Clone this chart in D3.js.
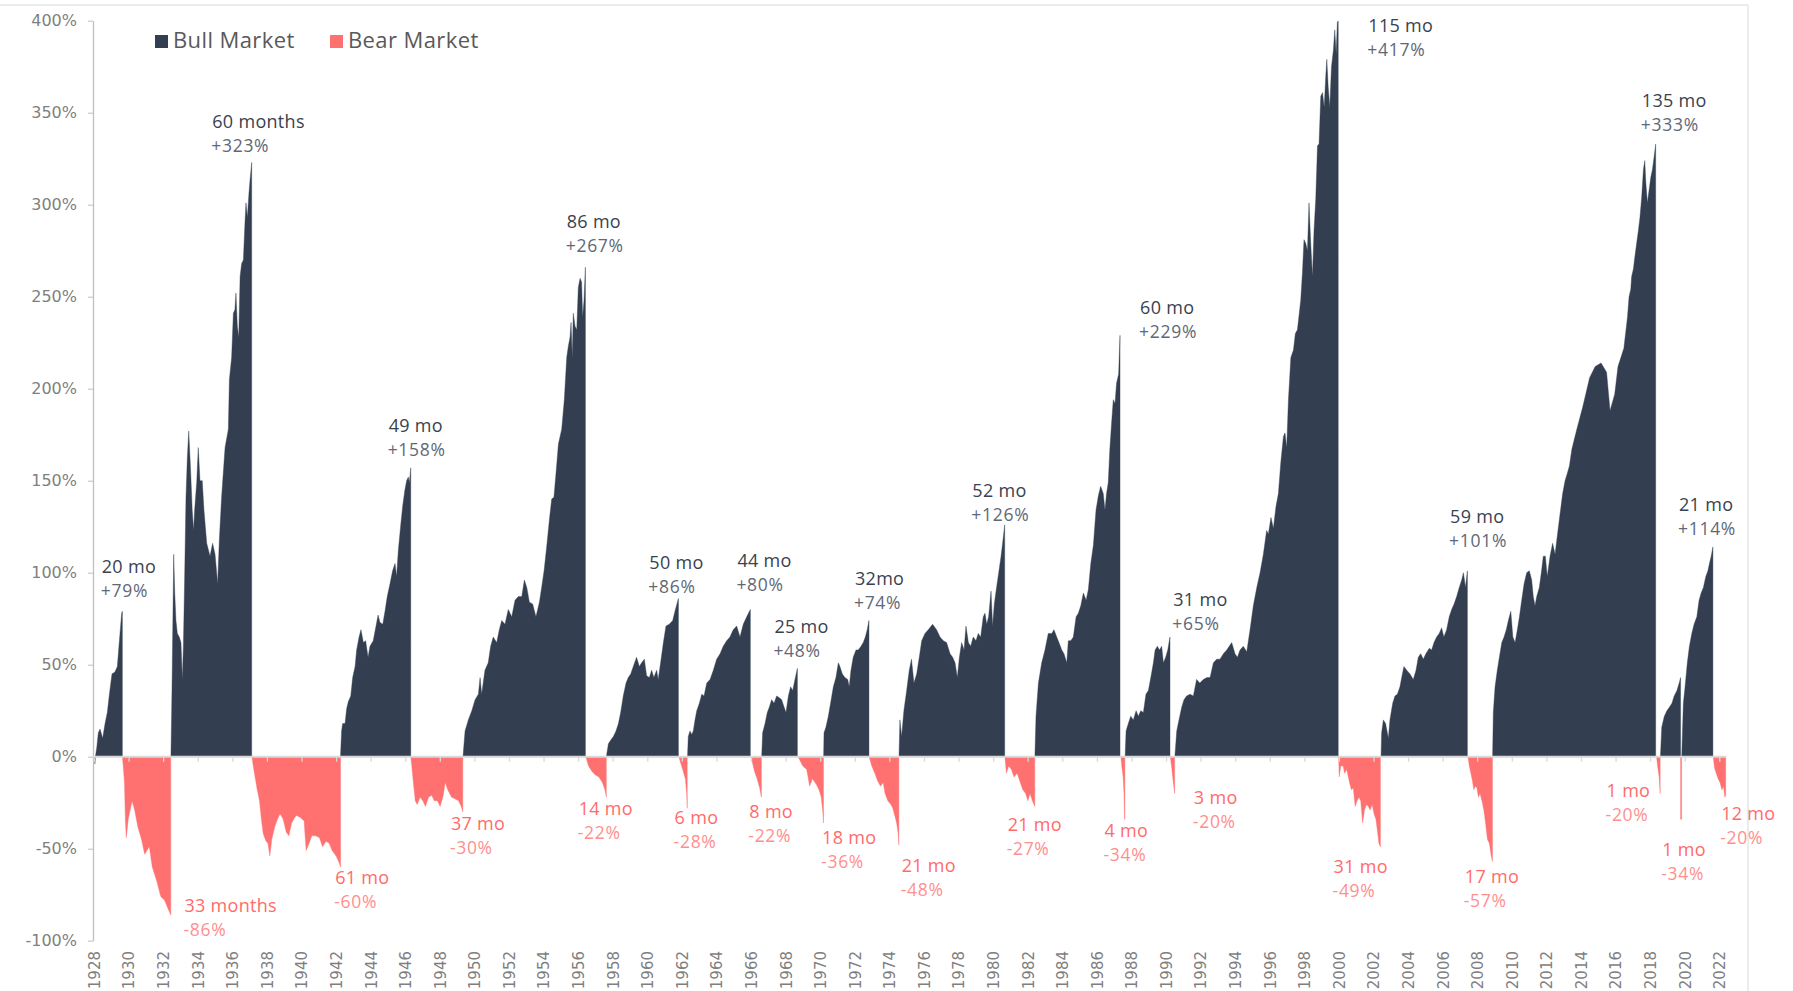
<!DOCTYPE html>
<html>
<head>
<meta charset="utf-8">
<script src="https://cdn.jsdelivr.net/npm/d3@7"></script>
<style>
    body { margin: 0; background: #ffffff; }
    svg { display: block; font-family: 'Open Sans', Lato, sans-serif; }
    .tickLabel { fill: #7f7f7f; font-size: 16px; font-family: 'DejaVu Sans', sans-serif; }
    .yearLabel { fill: #7f7f7f; font-size: 15px; font-family: 'DejaVu Sans', sans-serif; }
    .legendText { fill: #595959; font-size: 22px; letter-spacing: 0.4px; }
    .bullTop { fill: #39424f; font-size: 18px; letter-spacing: 0.3px; }
    .bullSub { fill: #5f6878; font-size: 17.5px; letter-spacing: 0.7px; }
    .bearTop { fill: #ff6b6b; font-size: 18px; letter-spacing: 0.3px; }
    .bearSub { fill: #ff8f8f; font-size: 17.5px; letter-spacing: 0.7px; }
</style>
</head>
<body>
<svg id="chart" width="1793" height="991"></svg>
<script>
// each market: [decimal year, % change since the start of that market]
const bull1928 = [[1928.05,-4],[1928.08,0],[1928.16,5],[1928.25,13],[1928.35,15],[1928.5,10],[1928.64,18],[1928.77,24],[1928.89,34],[1929.04,45],[1929.21,46],[1929.35,49],[1929.46,62],[1929.6,78],[1929.64,79]]
const bear1929 = [[1929.64,0],[1929.69,-5],[1929.76,-14],[1929.82,-36],[1929.87,-44],[1929.98,-34],[1930.2,-24],[1930.35,-29],[1930.53,-38],[1930.75,-45],[1930.93,-53],[1931.2,-49],[1931.37,-60],[1931.64,-68],[1931.86,-76],[1932.08,-78],[1932.3,-83],[1932.44,-86]]
const bull1932 = [[1932.45,0],[1932.51,36],[1932.61,110],[1932.67,89],[1932.74,74],[1932.82,67],[1932.93,65],[1933.03,62],[1933.11,42],[1933.17,60],[1933.24,96],[1933.32,141],[1933.4,163],[1933.48,177],[1933.59,155],[1933.68,134],[1933.76,123],[1933.82,134],[1933.94,149],[1934.03,168],[1934.13,150],[1934.26,150],[1934.36,134],[1934.52,116],[1934.71,109],[1934.86,116],[1935.0,110],[1935.15,94],[1935.25,118],[1935.38,141],[1935.58,168],[1935.77,178],[1935.83,205],[1935.96,217],[1936.06,241],[1936.15,243],[1936.21,252],[1936.29,234],[1936.37,228],[1936.45,261],[1936.54,268],[1936.64,270],[1936.73,290],[1936.79,301],[1936.87,293],[1936.96,306],[1937.02,313],[1937.12,323]]
const bear1937 = [[1937.13,0],[1937.21,-5],[1937.35,-13],[1937.44,-18],[1937.57,-24],[1937.68,-34],[1937.79,-42],[1937.95,-46],[1938.06,-47],[1938.17,-54],[1938.28,-45],[1938.46,-38],[1938.61,-34],[1938.76,-31],[1938.94,-34],[1939.12,-41],[1939.27,-43],[1939.43,-36],[1939.61,-33],[1939.71,-32],[1939.94,-33],[1940.15,-35],[1940.27,-51],[1940.44,-47],[1940.6,-43],[1940.82,-43],[1941.04,-44],[1941.22,-49],[1941.42,-46],[1941.6,-47],[1941.77,-51],[1942.0,-54],[1942.15,-57],[1942.26,-60]]
const bull1942 = [[1942.26,1],[1942.32,14],[1942.38,18],[1942.52,18],[1942.61,26],[1942.71,30],[1942.85,33],[1942.96,43],[1943.1,49],[1943.19,58],[1943.33,65],[1943.44,69],[1943.58,62],[1943.71,63],[1943.85,54],[1943.96,60],[1944.15,63],[1944.31,71],[1944.43,77],[1944.54,73],[1944.7,72],[1944.83,79],[1944.96,87],[1945.12,94],[1945.27,101],[1945.41,105],[1945.5,98],[1945.6,112],[1945.73,125],[1945.85,136],[1945.98,145],[1946.08,150],[1946.18,152],[1946.24,149],[1946.32,157]]
const bear1946 = [[1946.32,0],[1946.38,-5],[1946.47,-14],[1946.58,-24],[1946.69,-26],[1946.86,-22],[1947.02,-24],[1947.17,-27],[1947.35,-22],[1947.53,-21],[1947.68,-24],[1947.86,-24],[1948.02,-27],[1948.2,-21],[1948.31,-14],[1948.46,-18],[1948.68,-22],[1948.9,-23],[1949.08,-24],[1949.24,-27],[1949.33,-30]]
const bull1949 = [[1949.35,1],[1949.46,14],[1949.65,20],[1949.85,25],[1950.04,31],[1950.23,34],[1950.33,43],[1950.42,34],[1950.61,47],[1950.8,51],[1950.94,60],[1951.09,65],[1951.29,62],[1951.44,69],[1951.58,74],[1951.77,72],[1951.96,80],[1952.16,76],[1952.35,85],[1952.54,87],[1952.74,87],[1952.89,96],[1953.03,92],[1953.18,84],[1953.37,83],[1953.56,76],[1953.76,84],[1953.89,92],[1954.03,101],[1954.18,114],[1954.34,129],[1954.47,140],[1954.6,141],[1954.72,154],[1954.86,170],[1955.05,178],[1955.2,194],[1955.34,217],[1955.43,223],[1955.53,228],[1955.59,236],[1955.66,217],[1955.72,241],[1955.82,234],[1955.92,232],[1956.01,255],[1956.11,260],[1956.2,258],[1956.26,239],[1956.34,248],[1956.42,266]]
const bear1956 = [[1956.44,0],[1956.6,-5],[1956.8,-8],[1957.0,-10],[1957.2,-11],[1957.4,-14],[1957.55,-18],[1957.63,-22]]
const bull1957 = [[1957.65,1],[1957.75,7],[1957.88,9],[1958.04,11],[1958.19,14],[1958.33,18],[1958.46,24],[1958.61,33],[1958.77,40],[1958.9,43],[1959.04,45],[1959.19,49],[1959.38,54],[1959.54,49],[1959.67,51],[1959.83,53],[1959.96,44],[1960.12,43],[1960.25,47],[1960.38,43],[1960.54,47],[1960.63,42],[1960.77,51],[1960.93,62],[1961.08,71],[1961.27,72],[1961.47,74],[1961.6,79],[1961.8,86]]
const bear1961 = [[1961.82,0],[1961.95,-4],[1962.08,-8],[1962.2,-12],[1962.28,-20],[1962.31,-28]]
const bull1962 = [[1962.33,1],[1962.37,11],[1962.47,14],[1962.57,12],[1962.66,14],[1962.76,20],[1962.86,25],[1963.01,29],[1963.15,34],[1963.28,33],[1963.44,40],[1963.63,42],[1963.82,47],[1964.01,53],[1964.21,56],[1964.39,60],[1964.59,63],[1964.78,65],[1964.97,69],[1965.17,71],[1965.36,65],[1965.55,72],[1965.75,76],[1965.96,80]]
const bear1966 = [[1965.98,0],[1966.1,-4],[1966.2,-8],[1966.35,-12],[1966.5,-17],[1966.6,-22]]
const bull1966 = [[1966.62,1],[1966.67,13],[1966.81,18],[1966.94,24],[1967.06,27],[1967.19,31],[1967.33,29],[1967.48,33],[1967.64,32],[1967.77,31],[1967.91,27],[1968.02,24],[1968.16,33],[1968.29,38],[1968.41,36],[1968.54,42],[1968.68,48]]
const bear1968 = [[1968.72,0],[1968.99,-5],[1969.22,-7],[1969.39,-16],[1969.55,-12],[1969.77,-15],[1969.93,-18],[1970.06,-22],[1970.15,-30],[1970.19,-36]]
const bull1970 = [[1970.2,1],[1970.22,13],[1970.33,16],[1970.47,22],[1970.6,29],[1970.76,38],[1970.91,43],[1971.05,51],[1971.14,49],[1971.28,45],[1971.43,43],[1971.59,42],[1971.68,38],[1971.78,47],[1971.91,54],[1972.07,58],[1972.2,58],[1972.36,60],[1972.49,62],[1972.61,65],[1972.72,69],[1972.82,74]]
const bear1973 = [[1972.83,0],[1972.98,-5],[1973.16,-9],[1973.31,-13],[1973.49,-16],[1973.64,-14],[1973.75,-20],[1973.91,-24],[1974.09,-26],[1974.2,-28],[1974.31,-32],[1974.42,-36],[1974.51,-42],[1974.55,-48]]
const bull1974 = [[1974.56,1],[1974.61,20],[1974.71,11],[1974.84,25],[1975.0,36],[1975.15,47],[1975.28,53],[1975.42,40],[1975.58,45],[1975.73,54],[1975.87,63],[1976.06,67],[1976.25,69],[1976.5,72],[1976.73,69],[1976.93,65],[1977.12,63],[1977.31,62],[1977.51,56],[1977.66,54],[1977.8,51],[1977.93,43],[1978.05,54],[1978.18,62],[1978.32,58],[1978.43,71],[1978.57,62],[1978.7,60],[1978.85,65],[1979.01,63],[1979.14,67],[1979.28,65],[1979.43,76],[1979.53,78],[1979.63,72],[1979.74,76],[1979.88,90],[1979.97,71],[1980.07,83],[1980.2,92],[1980.34,101],[1980.46,109],[1980.55,116],[1980.67,126]]
const bear1980 = [[1980.68,0],[1980.77,-9],[1980.9,-5],[1981.06,-7],[1981.21,-11],[1981.39,-9],[1981.57,-14],[1981.72,-18],[1981.88,-20],[1982.01,-24],[1982.14,-20],[1982.27,-24],[1982.41,-27]]
const bull1982 = [[1982.42,1],[1982.48,22],[1982.62,40],[1982.81,51],[1983.0,58],[1983.19,67],[1983.39,67],[1983.52,69],[1983.68,65],[1983.81,62],[1983.97,58],[1984.1,56],[1984.26,51],[1984.35,63],[1984.49,63],[1984.64,65],[1984.8,76],[1984.93,78],[1985.07,82],[1985.22,89],[1985.38,85],[1985.51,91],[1985.65,105],[1985.8,115],[1985.95,134],[1986.09,142],[1986.22,147],[1986.37,143],[1986.47,134],[1986.56,143],[1986.66,149],[1986.75,167],[1986.85,181],[1986.95,194],[1987.05,192],[1987.14,203],[1987.26,208],[1987.34,229]]
const bear1987 = [[1987.39,0],[1987.44,-5],[1987.52,-11],[1987.57,-20],[1987.6,-34],[1987.62,-34]]
const bull1987 = [[1987.64,1],[1987.69,14],[1987.82,18],[1987.96,22],[1988.11,20],[1988.27,25],[1988.4,22],[1988.54,25],[1988.69,24],[1988.84,34],[1988.98,36],[1989.12,43],[1989.27,51],[1989.37,58],[1989.5,60],[1989.62,58],[1989.75,60],[1989.85,51],[1989.98,54],[1990.1,58],[1990.23,65]]
const bear1990 = [[1990.25,0],[1990.33,-6],[1990.42,-14],[1990.5,-20]]
const bull1990 = [[1990.52,1],[1990.62,14],[1990.75,20],[1990.91,27],[1991.04,31],[1991.19,33],[1991.39,34],[1991.58,33],[1991.77,42],[1991.95,40],[1992.16,42],[1992.36,43],[1992.55,43],[1992.74,51],[1992.93,53],[1993.12,53],[1993.32,56],[1993.51,58],[1993.8,62],[1993.99,56],[1994.13,54],[1994.28,58],[1994.47,60],[1994.67,57],[1994.86,69],[1995.05,82],[1995.25,92],[1995.44,100],[1995.63,110],[1995.82,123],[1995.92,121],[1996.07,130],[1996.21,124],[1996.36,136],[1996.5,143],[1996.64,160],[1996.79,174],[1996.88,176],[1996.98,168],[1997.08,194],[1997.22,217],[1997.37,221],[1997.48,230],[1997.6,232],[1997.79,248],[1997.89,263],[1997.98,281],[1998.08,279],[1998.18,275],[1998.27,301],[1998.37,279],[1998.47,261],[1998.56,286],[1998.66,303],[1998.76,332],[1998.85,333],[1998.95,359],[1999.05,361],[1999.15,353],[1999.24,370],[1999.3,379],[1999.38,364],[1999.47,353],[1999.57,375],[1999.68,384],[1999.76,395],[1999.84,382],[1999.91,399],[1999.96,400]]
const bear2000 = [[1999.98,0],[2000.02,-11],[2000.11,-5],[2000.24,-5],[2000.33,-9],[2000.45,-7],[2000.61,-14],[2000.72,-18],[2000.83,-17],[2000.94,-27],[2001.05,-24],[2001.16,-22],[2001.26,-24],[2001.37,-36],[2001.48,-29],[2001.59,-26],[2001.7,-27],[2001.81,-29],[2001.92,-26],[2002.03,-31],[2002.14,-34],[2002.25,-42],[2002.31,-47],[2002.4,-49]]
const bull2002 = [[2002.44,1],[2002.47,13],[2002.57,20],[2002.7,18],[2002.86,10],[2002.95,20],[2003.11,29],[2003.24,33],[2003.38,34],[2003.53,38],[2003.63,43],[2003.76,49],[2003.92,47],[2004.11,45],[2004.3,42],[2004.46,47],[2004.59,54],[2004.73,56],[2004.88,53],[2005.03,56],[2005.23,59],[2005.36,58],[2005.5,62],[2005.65,65],[2005.8,67],[2005.94,70],[2006.07,65],[2006.23,69],[2006.38,76],[2006.52,80],[2006.66,83],[2006.81,87],[2006.96,92],[2007.1,96],[2007.2,100],[2007.32,92],[2007.43,101]]
const bear2007 = [[2007.46,0],[2007.54,-5],[2007.63,-9],[2007.72,-13],[2007.8,-18],[2007.89,-16],[2007.98,-17],[2008.07,-22],[2008.16,-20],[2008.27,-24],[2008.38,-29],[2008.48,-36],[2008.59,-45],[2008.7,-47],[2008.81,-54],[2008.88,-57]]
const bull2009 = [[2008.89,1],[2008.93,24],[2009.03,38],[2009.16,47],[2009.28,54],[2009.42,62],[2009.55,65],[2009.68,69],[2009.8,74],[2009.94,79],[2010.06,65],[2010.19,62],[2010.32,69],[2010.44,76],[2010.57,85],[2010.71,94],[2010.86,100],[2011.01,101],[2011.15,96],[2011.24,87],[2011.34,82],[2011.44,87],[2011.59,92],[2011.72,101],[2011.82,109],[2011.94,109],[2012.05,98],[2012.21,109],[2012.36,116],[2012.5,110],[2012.63,120],[2012.79,132],[2012.94,143],[2013.08,150],[2013.21,154],[2013.33,158],[2013.47,167],[2013.6,172],[2013.76,178],[2014.1,190],[2014.5,206],[2014.82,212],[2015.16,214],[2015.48,209],[2015.68,188],[2015.95,197],[2016.14,212],[2016.48,222],[2016.69,239],[2016.78,250],[2016.88,254],[2016.93,261],[2017.03,265],[2017.12,272],[2017.22,279],[2017.32,286],[2017.41,293],[2017.51,304],[2017.61,319],[2017.69,324],[2017.75,312],[2017.84,301],[2017.94,308],[2018.04,315],[2018.13,319],[2018.23,326],[2018.32,333]]
const bear2018 = [[2018.37,0],[2018.43,-5],[2018.52,-11],[2018.58,-20]]
const bull2018 = [[2018.6,1],[2018.67,16],[2018.82,22],[2018.97,25],[2019.12,27],[2019.26,29],[2019.39,33],[2019.55,36],[2019.68,40],[2019.76,43]]
const bear2020 = [[2019.76,-34],[2019.82,-34]]
const bull2020 = [[2019.83,1],[2019.92,29],[2020.02,38],[2020.15,51],[2020.27,60],[2020.41,67],[2020.54,72],[2020.7,76],[2020.83,85],[2020.95,89],[2021.08,92],[2021.22,98],[2021.34,101],[2021.43,105],[2021.53,109],[2021.63,114]]
const bear2022 = [[2021.65,0],[2021.72,-6],[2021.82,-9],[2021.93,-12],[2022.04,-14],[2022.15,-18],[2022.24,-16],[2022.32,-22],[2022.37,-21]]

const bulls = [bull1928, bull1932, bull1942, bull1949, bull1957, bull1962, bull1966, bull1970, bull1974, bull1982, bull1987, bull1990, bull2002, bull2009, bull2018, bull2020]
const bears = [bear1929, bear1937, bear1946, bear1956, bear1961, bear1966, bear1968, bear1973, bear1980, bear1987, bear1990, bear2000, bear2007, bear2018, bear2020, bear2022]

// annotations: [decimal year, %] of the first text line
const bullLabelAt = [[1928.45,100],[1934.84,341.5],[1945.04,176.5],[1955.34,287.5],[1960.12,101.8],[1965.21,103.3],[1967.35,67.1],[1972.01,93.3],[1978.8,141.3],[1988.5,240.4],[1990.42,81.9],[2001.7,394],[2006.43,127.2],[2017.52,352.9],[2019.67,133.5]]
const bullDurations = ['20 mo', '60 months', '49 mo', '86 mo', '50 mo', '44 mo', '25 mo', '32mo', '52 mo', '60 mo', '31 mo', '115 mo', '59 mo', '135 mo', '21 mo']
const bullGains = ['+79%', '+323%', '+158%', '+267%', '+86%', '+80%', '+48%', '+74%', '+126%', '+229%', '+65%', '+417%', '+101%', '+333%', '+114%']

const bearLabelAt = [[1933.23,-84.2],[1941.95,-69.3],[1948.64,-39.8],[1956.03,-31.7],[1961.58,-36.6],[1965.9,-33.5],[1970.11,-47.4],[1974.71,-62.5],[1980.84,-40.4],[1986.44,-43.5],[1991.61,-25.9],[1999.69,-63],[2007.28,-68.8],[2015.48,-21.7],[2018.7,-53.8],[2022.11,-34.4]]
const bearDurations = ['33 months', '61 mo', '37 mo', '14 mo', '6 mo', '8 mo', '18 mo', '21 mo', '21 mo', '4 mo', '3 mo', '31 mo', '17 mo', '1 mo', '1 mo', '12 mo']
const bearLosses = ['-86%', '-60%', '-30%', '-22%', '-28%', '-22%', '-36%', '-48%', '-27%', '-34%', '-20%', '-49%', '-57%', '-20%', '-34%', '-20%']

const yTicks = [-100, -50, 0, 50, 100, 150, 200, 250, 300, 350, 400]
const yearTicks = [1928, 1930, 1932, 1934, 1936, 1938, 1940, 1942, 1944, 1946, 1948, 1950, 1952, 1954, 1956, 1958, 1960, 1962, 1964, 1966, 1968, 1970, 1972, 1974, 1976, 1978, 1980, 1982, 1984, 1986, 1988, 1990, 1992, 1994, 1996, 1998, 2000, 2002, 2004, 2006, 2008, 2010, 2012, 2014, 2016, 2018, 2020, 2022]

const legendItems = [['Bull Market', '#333f50'], ['Bear Market', '#ff7171']]

const bullColor = '#333f50'
const bearColor = '#ff7171'
const gridColor = '#d9d9d9'

const style = {
    W: 1793, H: 991,
    x: { lo: 1928, hi: 2023, l: 94, r: 1736.6, axisEnd: 2022.4 },
    y: { lo: -100, hi: 400, b: 940.7, t: 20.7 },
    frame: { top: 5, right: 1748 },
    yearLabelY: 946,
    lineGap: 24
}

const x = d3.scaleLinear().domain([style.x.lo, style.x.hi]).range([style.x.l, style.x.r])
const y = d3.scaleLinear().domain([style.y.lo, style.y.hi]).range([style.y.b, style.y.t])

const svg = d3.select('#chart')

function drawFrame(root) {
    root.append('line')
        .attr('x1', 0).attr('x2', style.frame.right)
        .attr('y1', style.frame.top).attr('y2', style.frame.top)
        .attr('stroke', gridColor)
    root.append('line')
        .attr('x1', style.frame.right).attr('x2', style.frame.right)
        .attr('y1', style.frame.top).attr('y2', style.H)
        .attr('stroke', gridColor)
}

function drawMarkets(root, paths, color) {
    let area = d3.area()
        .x(d => x(d[0]))
        .y0(y(0))
        .y1(d => y(d[1]))

    root.append('g')
        .attr('clip-path', 'url(#plotClip)')
        .selectAll(null)
        .data(paths)
        .enter()
        .append('path')
        .attr('d', area)
        .attr('fill', color)
        .attr('stroke', color)
        .attr('stroke-width', 0.4)
}

function drawAxes(root) {
    let yAxisG = root.append('g')
        .attr('transform', 'translate(' + [x(style.x.lo) - 1, 0] + ')')
        .call(d3.axisLeft(y).tickValues(yTicks).tickSize(5).tickSizeOuter(0).tickPadding(11)
            .tickFormat(d => d + '%'))
    yAxisG.select('.domain').attr('stroke', '#bfbfbf').attr('stroke-width', 1.3)
    yAxisG.selectAll('.tick line').attr('stroke', '#bfbfbf')
    yAxisG.selectAll('.tick text').attr('class', 'tickLabel').attr('font-family', null).attr('font-size', null)

    // zero line with small ticks hanging below it
    let xTickG = root.append('g')
        .attr('transform', 'translate(' + [0, y(0)] + ')')
        .call(d3.axisBottom(x).tickValues(yearTicks).tickSize(5).tickFormat(''))
    xTickG.select('.domain').remove()
    xTickG.selectAll('.tick line').attr('stroke', gridColor).attr('stroke-width', 1.3)

    root.append('line')
        .attr('x1', x(style.x.lo) - 1)
        .attr('x2', x(style.x.axisEnd))
        .attr('y1', y(0)).attr('y2', y(0))
        .attr('stroke', gridColor)
        .attr('stroke-width', 2)

    let xLabelG = root.append('g')
        .attr('transform', 'translate(' + [0, style.yearLabelY] + ')')
        .call(d3.axisBottom(x).tickValues(yearTicks).tickSize(0).tickFormat(d => d))
    xLabelG.select('.domain').remove()
    xLabelG.selectAll('.tick text')
        .attr('class', 'yearLabel')
        .attr('font-family', null).attr('font-size', null)
        .attr('transform', 'rotate(-90)')
        .attr('text-anchor', 'end')
        .attr('x', -5)
        .attr('y', 0)
        .attr('dy', '0.36em')
}

function drawLabels(root, anchors, top, sub, className) {
    let g = root.append('g')
        .selectAll(null)
        .data(anchors)
        .enter()
        .append('g')
        .attr('transform', d => 'translate(' + [x(d[0]), y(d[1])] + ')')

    g.append('text')
        .text((d, i) => top[i])
        .classed(className.top, true)

    g.append('text')
        .attr('y', style.lineGap)
        .attr('x', -1)
        .text((d, i) => sub[i])
        .classed(className.sub, true)
}

function drawLegend(root) {
    let pos = [[155, 35], [330, 35]]
    let g = root.append('g')
        .selectAll(null)
        .data(legendItems)
        .enter()
        .append('g')
        .attr('transform', (d, i) => 'translate(' + pos[i] + ')')

    g.append('rect')
        .attr('width', 13)
        .attr('height', 13)
        .attr('fill', d => d[1])

    g.append('text')
        .attr('x', 18)
        .attr('y', 12.5)
        .text(d => d[0])
        .classed('legendText', true)
}

svg.append('defs').append('clipPath').attr('id', 'plotClip')
    .append('rect')
    .attr('x', 0).attr('width', style.W)
    .attr('y', y(style.y.hi)).attr('height', y(style.y.lo) - y(style.y.hi))

drawFrame(svg)
drawMarkets(svg, bears, bearColor)
drawMarkets(svg, bulls, bullColor)
drawAxes(svg)
drawLabels(svg, bullLabelAt, bullDurations, bullGains, { top: 'bullTop', sub: 'bullSub' })
drawLabels(svg, bearLabelAt, bearDurations, bearLosses, { top: 'bearTop', sub: 'bearSub' })
drawLegend(svg)
</script>
</body>
</html>
